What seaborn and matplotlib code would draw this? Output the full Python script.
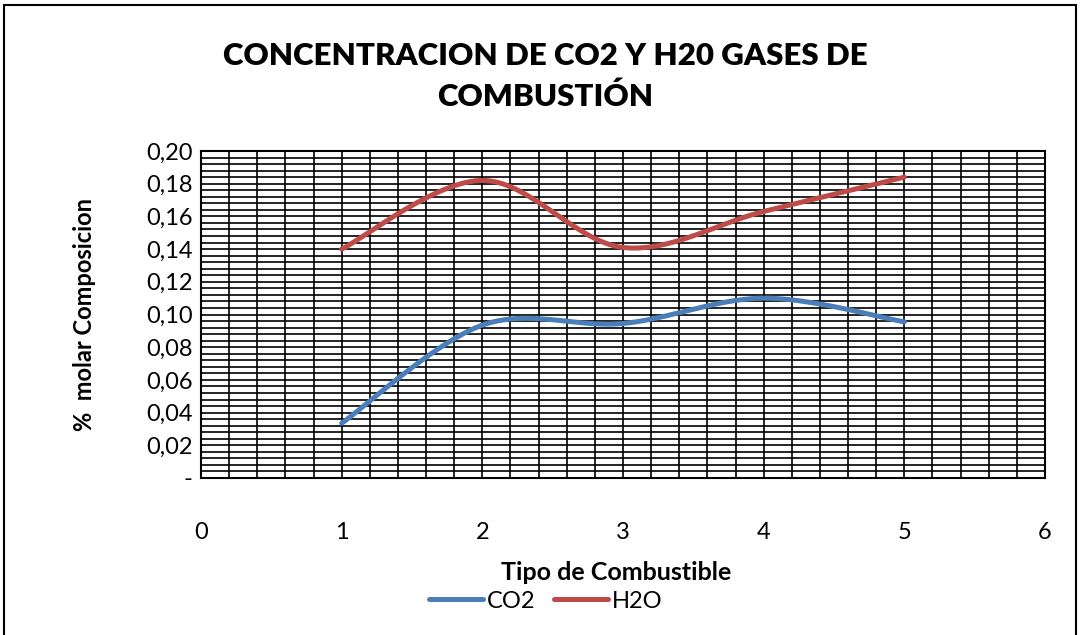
import numpy as np
import pandas as pd
import seaborn as sns
import matplotlib.pyplot as plt
from matplotlib.lines import Line2D
from matplotlib.patches import Rectangle
from matplotlib.ticker import MultipleLocator, FuncFormatter

tipo = [1, 2, 3, 4, 5]
co2 = [0.0335, 0.0935, 0.0945, 0.110, 0.0955]
h2o = [0.140, 0.182, 0.141, 0.163, 0.184]
series = ["CO2", "H2O"]
colores = ["#4A7EBB", "#BE4B48"]


def suavizar(x, y, n=40):
    # curva suavizada tipo Excel (Bezier con tangentes Catmull-Rom)
    p = np.column_stack([x, y]).astype(float)
    p = np.vstack([p[0], p, p[-1]])
    pts = []
    for i in range(1, len(p) - 2):
        p0, p1, p2, p3 = p[i - 1], p[i], p[i + 1], p[i + 2]
        c1 = p1 + (p2 - p0) / 6
        c2 = p2 - (p3 - p1) / 6
        t = np.linspace(0, 1, n)[:, None]
        b = (1 - t) ** 3 * p1 + 3 * (1 - t) ** 2 * t * c1 + 3 * (1 - t) * t ** 2 * c2 + t ** 3 * p2
        pts.append(b if i == 1 else b[1:])
    pts = np.vstack(pts)
    return pts[:, 0], pts[:, 1]


sns.set_style("white")
plt.rcParams['font.family'] = ['Lato', 'DejaVu Sans']
plt.rcParams['text.color'] = 'black'
plt.rcParams['axes.labelcolor'] = 'black'

fig = plt.figure(figsize=(10.8, 6.35), dpi=100)
ax = fig.add_axes([201 / 1080, 1 - 478 / 635, (1045 - 201) / 1080, (478 - 151) / 635])

for nombre, vals, c in zip(series, [co2, h2o], colores):
    xs, ys = suavizar(tipo, vals)
    sns.lineplot(x=xs, y=ys, color=c, linewidth=3.6, sort=False,
                 estimator=None, ax=ax, solid_capstyle="round")

ax.set_xlim(0, 6)
ax.set_ylim(0, 0.20)
ax.xaxis.set_major_locator(MultipleLocator(1))
ax.xaxis.set_minor_locator(MultipleLocator(0.2))
ax.yaxis.set_major_locator(MultipleLocator(0.02))
ax.yaxis.set_minor_locator(MultipleLocator(0.004))
ax.yaxis.set_major_formatter(FuncFormatter(lambda v, p: "-" if abs(v) < 1e-9 else f"{v:.2f}".replace(".", ",")))
ax.grid(which="both", color="black", linewidth=1.2)
ax.set_axisbelow(True)
for s in ax.spines.values():
    s.set_color("black")
    s.set_linewidth(1.5)
ax.tick_params(axis="both", which="both", length=0, labelsize=17, colors="black")
ax.tick_params(axis="x", pad=32)
ax.tick_params(axis="y", pad=6)

ax.set_xlabel("Tipo de Combustible", fontsize=18, fontweight="bold", va="center")
ax.xaxis.set_label_coords(0.5 + (616 - 623) / 844, -(573 - 478) / 327)
ax.set_ylabel("%  molar Composicion", fontsize=17, fontweight="bold", va="center")
ax.yaxis.set_label_coords(-(201 - 85) / 844, 0.5)

fig.text(0.505, 1 - 56 / 635, "CONCENTRACION DE CO2 Y H20 GASES DE", ha="center", va="center",
         fontsize=22.5, fontweight="heavy")
fig.text(0.505, 1 - 97 / 635, "COMBUSTIÓN", ha="center", va="center",
         fontsize=22.5, fontweight="heavy")

handles = [Line2D([0], [0], color=c, linewidth=3.6, solid_capstyle="round") for c in colores]
fig.legend(handles, series, loc="center", bbox_to_anchor=(0.505, 1 - 601 / 635), ncol=2,
           frameon=False, fontsize=17, handlelength=2.3, handletextpad=0.15, columnspacing=0.8,
           borderpad=0)

fig.add_artist(Rectangle((4 / 1080, -0.05), 1072 / 1080, 1 - 5 / 635 + 0.05, transform=fig.transFigure,
                         fill=False, edgecolor="black", linewidth=1.5))

fig.savefig("out.png", dpi=100)
